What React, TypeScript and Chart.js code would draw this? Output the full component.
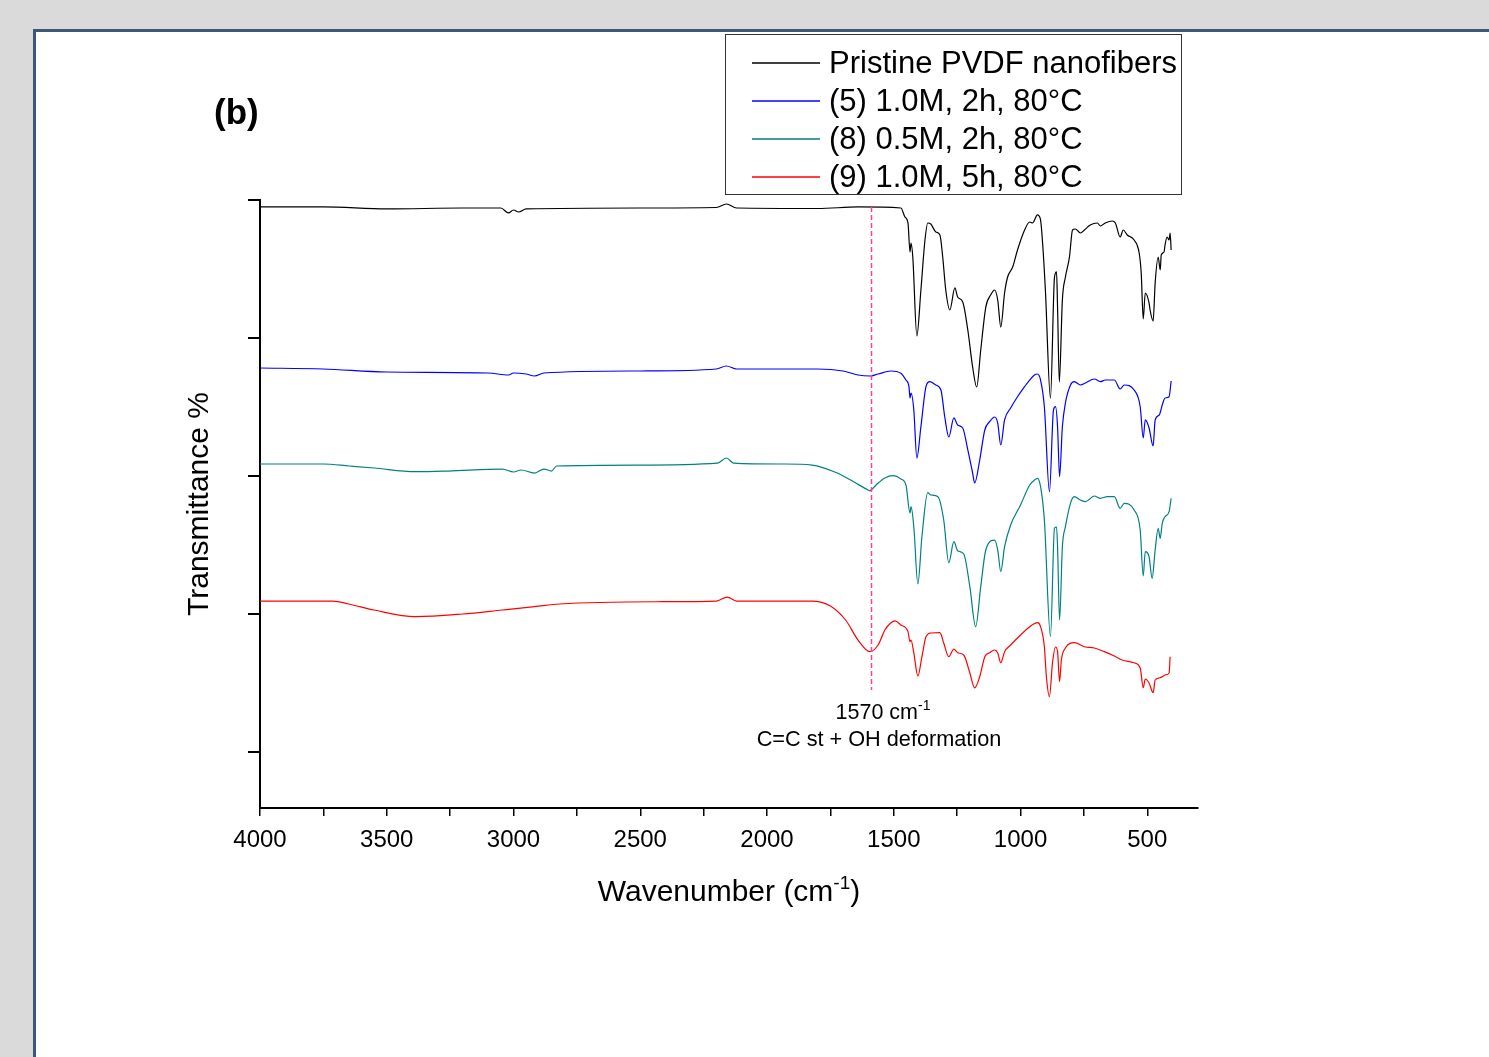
import React, { useEffect, useRef } from 'react';
import { Chart, registerables } from 'chart.js';

Chart.register(...registerables);

const FONT = '"Liberation Sans", Arial, Helvetica, sans-serif';

// Pristine PVDF nanofibers
const wnPristine = [4000, 3750, 3500, 3200, 3050, 3020, 3000, 2980, 2950, 2500, 2200, 2160, 2120, 1800, 1641, 1472, 1456, 1444, 1436, 1432, 1425, 1409, 1393, 1377, 1366, 1354, 1334, 1318, 1307, 1295, 1279, 1259, 1248, 1228, 1208, 1189, 1173, 1157, 1137, 1118, 1102, 1090, 1078, 1063, 1051, 1031, 1012, 984, 964, 953, 933, 921, 913, 902, 882, 866, 858, 854, 847, 835, 823, 807, 795, 784, 764, 748, 725, 697, 685, 666, 638, 626, 607, 595, 579, 552, 532, 524, 516, 508, 493, 489, 477, 469, 457, 449, 445, 434, 430, 422, 414, 410, 406];
const tPristine = [98.99, 98.99, 98.70, 98.84, 98.84, 98.12, 98.55, 98.26, 98.70, 98.84, 98.91, 99.42, 98.84, 98.77, 98.99, 98.84, 97.54, 96.67, 92.46, 93.77, 91.74, 80.29, 86.96, 94.20, 96.67, 96.52, 95.36, 94.93, 91.74, 86.96, 84.06, 87.25, 85.94, 85.22, 81.16, 75.80, 72.90, 78.26, 84.49, 86.23, 86.96, 85.51, 81.59, 86.52, 88.84, 90.29, 92.75, 95.65, 96.81, 96.67, 97.83, 97.10, 93.77, 86.96, 71.30, 88.84, 89.57, 84.49, 73.62, 85.51, 88.84, 91.74, 95.65, 95.80, 95.22, 95.65, 96.38, 96.67, 96.23, 96.67, 96.96, 96.67, 94.64, 95.65, 94.93, 94.20, 92.32, 89.42, 82.75, 86.52, 85.07, 84.06, 82.46, 87.97, 91.74, 89.86, 92.03, 92.46, 93.48, 94.64, 94.20, 95.22, 92.75];

// (5) 1.0M, 2h, 80°C
const wnS5 = [4000, 3750, 3500, 3100, 3020, 3000, 2950, 2917, 2880, 2500, 2200, 2160, 2120, 1800, 1700, 1641, 1594, 1562, 1511, 1472, 1452, 1440, 1436, 1432, 1421, 1409, 1393, 1373, 1358, 1334, 1314, 1299, 1283, 1263, 1248, 1228, 1208, 1189, 1181, 1161, 1141, 1122, 1102, 1090, 1078, 1063, 1039, 1012, 984, 964, 945, 933, 921, 906, 886, 870, 862, 854, 846, 835, 823, 803, 788, 764, 744, 709, 685, 666, 630, 607, 591, 552, 528, 516, 508, 493, 477, 469, 453, 441, 430, 414, 406];
const tS5 = [75.65, 75.51, 75.07, 74.93, 74.64, 74.93, 74.78, 74.49, 74.93, 75.22, 75.51, 75.94, 75.51, 75.51, 75.22, 74.64, 74.49, 74.78, 75.22, 74.88, 73.91, 72.94, 71.30, 72.03, 69.57, 62.61, 67.14, 72.94, 73.67, 73.19, 72.46, 68.59, 65.65, 68.41, 67.39, 66.96, 63.77, 60.43, 58.99, 62.32, 66.67, 67.87, 68.55, 67.68, 64.49, 68.12, 69.86, 71.49, 72.94, 73.91, 74.64, 74.78, 73.91, 70.04, 57.72, 69.57, 70.04, 67.14, 59.90, 67.14, 70.58, 73.19, 73.67, 73.19, 73.48, 74.06, 73.67, 73.91, 73.91, 72.61, 73.19, 72.46, 70.04, 65.51, 68.12, 66.96, 64.35, 68.12, 68.84, 70.29, 71.30, 71.49, 73.77];

// (8) 0.5M, 2h, 80°C
const wnS8 = [4000, 3750, 3648, 3550, 3387, 3257, 3044, 3000, 2970, 2917, 2880, 2850, 2830, 2514, 2195, 2160, 2132, 1936, 1822, 1723, 1657, 1601, 1594, 1570, 1535, 1503, 1472, 1452, 1436, 1432, 1421, 1405, 1389, 1366, 1354, 1326, 1303, 1283, 1263, 1248, 1224, 1200, 1177, 1157, 1137, 1102, 1090, 1078, 1063, 1039, 1000, 964, 945, 933, 921, 906, 882, 866, 858, 854, 846, 835, 823, 803, 788, 764, 744, 709, 685, 658, 630, 607, 591, 552, 528, 516, 508, 493, 481, 469, 457, 449, 441, 430, 414, 406];
const tS8 = [61.74, 61.74, 61.45, 61.16, 60.62, 60.72, 61.01, 60.58, 60.87, 60.43, 61.01, 60.72, 61.45, 61.59, 61.88, 62.61, 61.88, 61.74, 61.59, 60.43, 59.13, 57.97, 57.87, 58.70, 59.71, 60.04, 59.57, 58.70, 54.64, 55.55, 52.65, 44.35, 51.20, 57.58, 57.25, 57.00, 53.62, 47.43, 50.48, 49.17, 48.70, 43.96, 38.16, 43.96, 49.28, 50.72, 49.28, 46.13, 49.75, 52.90, 55.80, 58.70, 59.42, 59.67, 58.45, 53.62, 36.71, 52.46, 52.61, 49.75, 39.13, 49.75, 52.65, 56.04, 57.00, 56.52, 56.28, 57.10, 56.77, 57.00, 57.00, 55.32, 56.04, 55.07, 52.17, 45.51, 49.03, 48.30, 45.17, 49.28, 52.42, 50.97, 53.14, 54.10, 54.83, 56.77];

// (9) 1.0M, 5h, 80°C
const wnS9 = [4000, 3713, 3650, 3550, 3387, 3200, 3044, 2917, 2818, 2410, 2200, 2157, 2120, 1822, 1750, 1690, 1641, 1594, 1562, 1535, 1511, 1495, 1472, 1444, 1436, 1432, 1421, 1405, 1389, 1373, 1354, 1318, 1303, 1283, 1263, 1248, 1224, 1200, 1181, 1161, 1141, 1122, 1102, 1090, 1078, 1063, 1039, 1000, 960, 933, 921, 906, 898, 886, 874, 862, 854, 846, 839, 823, 788, 748, 709, 670, 630, 599, 552, 528, 516, 508, 493, 477, 469, 453, 441, 430, 414, 410];
const tS9 = [41.88, 41.88, 41.45, 40.58, 39.61, 40.00, 40.58, 41.06, 41.45, 41.78, 41.88, 42.46, 41.88, 41.88, 41.16, 39.13, 36.23, 34.54, 35.51, 37.68, 38.74, 38.99, 38.41, 37.44, 35.99, 36.23, 34.35, 31.01, 33.81, 36.71, 37.25, 37.29, 35.80, 33.81, 34.93, 34.39, 34.06, 31.45, 29.28, 30.91, 33.81, 34.39, 34.78, 34.35, 32.94, 34.54, 35.51, 36.96, 38.26, 38.74, 38.16, 35.26, 30.91, 28.01, 32.90, 35.22, 34.54, 30.19, 33.33, 35.07, 35.84, 35.26, 35.07, 34.54, 33.91, 33.33, 32.94, 32.17, 29.32, 30.58, 30.00, 28.59, 30.43, 30.72, 30.91, 31.16, 31.45, 33.81];

const seriesLabels = ['Pristine PVDF nanofibers', '(5) 1.0M, 2h, 80°C', '(8) 0.5M, 2h, 80°C', '(9) 1.0M, 5h, 80°C'];
const seriesColors = ['#000000', '#0000ff', '#008080', '#ff0000'];
const seriesWn = [wnPristine, wnS5, wnS8, wnS9];
const seriesT = [tPristine, tS5, tS8, tS9];

const xTickValues = [4000, 3750, 3500, 3250, 3000, 2750, 2500, 2250, 2000, 1750, 1500, 1250, 1000, 750, 500];
const yTickValues = [20, 40, 60, 80, 100];
const xMin = 300;
const xMax = 4000;
const yMin = 11.884;
const yMax = 100;

// marker line
const markerWn = 1590;
const markerTop = 99;
const markerBottom = 29;
const markerLabel = '1570 cm';
const markerLabelSup = '-1';
const markerDesc = 'C=C st + OH deformation';

function drawSupText(ctx: CanvasRenderingContext2D, base: string, sup: string, tail: string, cx: number, baseline: number, size: number, supSize: number, rise: number) {
  ctx.font = `${size}px ${FONT}`;
  const wb = ctx.measureText(base).width;
  const wt = ctx.measureText(tail).width;
  ctx.font = `${supSize}px ${FONT}`;
  const ws = ctx.measureText(sup).width;
  let x = cx - (wb + ws + wt) / 2;
  ctx.textAlign = 'left';
  ctx.textBaseline = 'alphabetic';
  ctx.font = `${size}px ${FONT}`;
  ctx.fillText(base, x, baseline);
  x += wb;
  ctx.font = `${supSize}px ${FONT}`;
  ctx.fillText(sup, x, baseline - rise);
  x += ws;
  ctx.font = `${size}px ${FONT}`;
  if (tail) ctx.fillText(tail, x, baseline);
}

const overlayPlugin = {
  id: 'overlay',
  afterDatasetsDraw(chart: any) {
    const { ctx, scales } = chart;
    const px = Math.round(scales.x.getPixelForValue(markerWn)) + 0.5;
    const y1 = scales.y.getPixelForValue(markerTop);
    const y2 = scales.y.getPixelForValue(markerBottom);
    ctx.save();
    ctx.strokeStyle = '#ff3fa0';
    ctx.lineWidth = 1.5;
    ctx.setLineDash([5, 3]);
    ctx.beginPath();
    ctx.moveTo(px, y1);
    ctx.lineTo(px, y2);
    ctx.stroke();
    ctx.restore();
  },
  afterDraw(chart: any) {
    const { ctx, scales, chartArea } = chart;
    ctx.save();
    ctx.fillStyle = '#000';

    // panel label
    ctx.font = `bold 35px ${FONT}`;
    ctx.textAlign = 'left';
    ctx.textBaseline = 'middle';
    ctx.fillText('(b)', 214, 114);

    // y title
    ctx.save();
    ctx.translate(200, (chartArea.top + chartArea.bottom) / 2);
    ctx.rotate(-Math.PI / 2);
    ctx.font = `30px ${FONT}`;
    ctx.textAlign = 'center';
    ctx.textBaseline = 'middle';
    ctx.fillText('Transmittance %', 0, 0);
    ctx.restore();

    // x title
    drawSupText(ctx, 'Wavenumber (cm', '-1', ')', (chartArea.left + chartArea.right) / 2, 901, 30, 19, 12);

    // marker annotation
    const mx = scales.x.getPixelForValue(markerWn);
    drawSupText(ctx, markerLabel, markerLabelSup, '', mx + 12, 719, 21.5, 14, 9);
    ctx.font = `21.7px ${FONT}`;
    ctx.textAlign = 'center';
    ctx.textBaseline = 'alphabetic';
    ctx.fillText(markerDesc, mx + 8, 746);

    // legend
    ctx.strokeStyle = '#333';
    ctx.lineWidth = 1;
    ctx.strokeRect(725.5, 34.5, 456, 160);
    const rows = [63, 101, 139, 177];
    seriesLabels.forEach((lab, i) => {
      ctx.strokeStyle = seriesColors[i];
      ctx.lineWidth = 1.4;
      ctx.beginPath();
      ctx.moveTo(752, rows[i]);
      ctx.lineTo(820, rows[i]);
      ctx.stroke();
      ctx.fillStyle = '#000';
      ctx.font = `31px ${FONT}`;
      ctx.textAlign = 'left';
      ctx.textBaseline = 'middle';
      ctx.fillText(lab, 829, rows[i] + 1);
    });
    ctx.restore();
  },
};

export default function App() {
  const ref = useRef<HTMLCanvasElement | null>(null);

  useEffect(() => {
    document.body.style.margin = '0';
    const canvas = ref.current;
    if (!canvas) return;
    const datasets = seriesLabels.map((lab, i) => ({
      label: lab,
      data: seriesWn[i].map((w, j) => ({ x: w, y: seriesT[i][j] })),
      borderColor: seriesColors[i],
      backgroundColor: seriesColors[i],
      borderWidth: 1.2,
      pointRadius: 0,
      fill: false,
      cubicInterpolationMode: 'monotone' as const,
    }));
    const chart = new Chart(canvas, {
      type: 'line',
      data: { datasets },
      options: {
        responsive: false,
        animation: false,
        layout: { padding: { left: 0, top: 200, right: 291, bottom: 0 } },
        plugins: {
          legend: { display: false },
          tooltip: { enabled: false },
          title: { display: false },
        },
        scales: {
          x: {
            type: 'linear',
            reverse: true,
            min: xMin,
            max: xMax,
            afterBuildTicks: (s: any) => {
              s.ticks = xTickValues.map((v) => ({ value: v }));
            },
            afterFit: (s: any) => {
              s.height = 249;
            },
            grid: { drawOnChartArea: false, drawTicks: true, tickLength: 8, color: '#000', lineWidth: 1.5 },
            border: { display: true, color: '#000', width: 2 },
            ticks: {
              color: '#000',
              font: { family: FONT, size: 24 },
              padding: 10,
              maxRotation: 0,
              autoSkip: false,
              callback: (v: any) => (Number(v) % 500 === 0 ? String(v) : ''),
            },
            title: { display: false },
          },
          y: {
            type: 'linear',
            min: yMin,
            max: yMax,
            afterBuildTicks: (s: any) => {
              s.ticks = yTickValues.map((v) => ({ value: v }));
            },
            afterFit: (s: any) => {
              s.width = 260;
            },
            grid: { drawOnChartArea: false, drawTicks: true, tickLength: 12, color: '#000', lineWidth: 2 },
            border: { display: true, color: '#000', width: 2 },
            ticks: { display: true, callback: () => '', padding: 0 },
            title: { display: false },
          },
        },
      },
      plugins: [overlayPlugin],
    });
    return () => chart.destroy();
  }, []);

  return (
    <div style={{ position: 'fixed', left: 0, top: 0, width: 1489, height: 1057, background: '#dadada', overflow: 'hidden' }}>
      <div
        style={{
          position: 'absolute',
          left: 33,
          top: 29,
          right: 0,
          bottom: 0,
          background: '#ffffff',
          borderLeft: '3px solid #3c5878',
          borderTop: '3px solid #3c5878',
        }}
      />
      <canvas ref={ref} width={1489} height={1057} style={{ position: 'absolute', left: 0, top: 0, width: 1489, height: 1057 }} />
    </div>
  );
}
